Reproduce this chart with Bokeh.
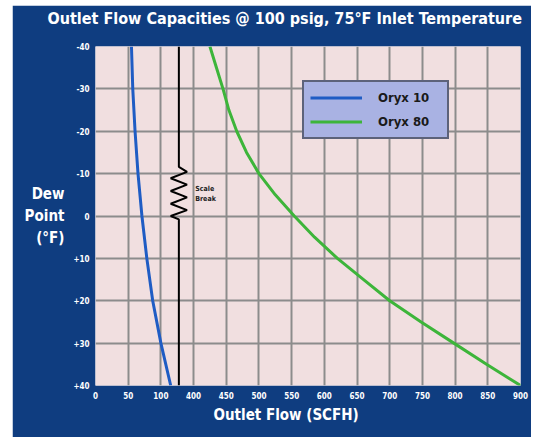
from bokeh.plotting import figure
from bokeh.models import Range1d, FixedTicker, Label, Legend, LegendItem, Spacer, Title
from bokeh.layouts import row, column
from bokeh.embed import file_html
from bokeh.resources import INLINE

# ---------------- data ----------------
title_text = "Outlet Flow Capacities @ 100 psig, 75°F Inlet Temperature"
x_title = "Outlet Flow (SCFH)"
y_title = "Dew\nPoint\n(°F)"
series_names = ["Oryx 10", "Oryx 80"]

x_tick_values = [0, 50, 100, 400, 450, 500, 550, 600, 650, 700, 750, 800, 850, 900]
y_tick_values = [-40, -30, -20, -10, 0, 10, 20, 30, 40]
y_tick_labels = ["-40", "-30", "-20", "-10", "0", "+10", "+20", "+30", "+40"]

dew_point_10 = [-40, -30, -20, -10, 0, 10, 20, 30, 40]
oryx10_flow = [55, 57, 60.5, 65, 71, 78.5, 87.5, 100, 115]

dew_point_80 = [-40, -35, -30, -25, -20, -15, -10, -5, 0, 5, 10, 15, 20, 25, 30, 35, 40]
oryx80_flow = [425, 435, 445, 454, 466, 481, 500, 525, 554, 585, 620, 660, 700, 748, 798, 848, 900]

# scale break: low segment ends at 100, high segment starts at 400
break_low, break_high = 100, 400
break_pos = 2.55  # position (in axis slots) of the drawn break line
break_zig_dx = [0, 0, 0.25, -0.25, 0.25, -0.25, 0.25, -0.25, 0.25, -0.25, 0, 0]
break_zig_y = [-40, -11.6, -10.4, -8.9, -7.4, -5.9, -4.4, -2.9, -1.4, 0.0, 0.8, 40]

STEP = 50.0


def to_slot(v):
    """Map an SCFH value onto the broken axis (one slot per 50 SCFH)."""
    if v <= (break_low + break_high) / 2:
        return v / STEP
    return x_tick_values.index(break_high) + (v - break_high) / STEP


NAVY = "#0f3d80"
PINK = "#f1dfe0"
GRID = "#8c8c8c"
FONT = "'Liberation Sans Narrow', 'DejaVu Sans Condensed', 'Liberation Sans', sans-serif"

p = figure(width=519, height=432,
           x_range=Range1d(0, len(x_tick_values) - 1),
           y_range=Range1d(40, -40),
           output_backend="svg", toolbar_location=None,
           min_border_left=83, min_border_right=11,
           min_border_top=40, min_border_bottom=52,
           background_fill_color=PINK, border_fill_color=NAVY,
           outline_line_color=None)

slots = list(range(len(x_tick_values)))
p.xaxis.ticker = FixedTicker(ticks=slots)
p.xaxis.major_label_overrides = {i: str(v) for i, v in zip(slots, x_tick_values)}
p.yaxis.ticker = FixedTicker(ticks=y_tick_values)
p.yaxis.major_label_overrides = {v: s for v, s in zip(y_tick_values, y_tick_labels)}

for ax in (p.xaxis, p.yaxis):
    ax.axis_line_color = None
    ax.major_tick_line_color = None
    ax.minor_tick_line_color = None
    ax.major_tick_out = 0
    ax.major_tick_in = 0
    ax.minor_tick_out = 0
    ax.minor_tick_in = 0
    ax.major_label_text_color = "white"
    ax.major_label_text_font = FONT
    ax.major_label_text_font_style = "bold"
    ax.major_label_text_font_size = "8px"
    ax.major_label_standoff = 6

# y title, horizontal and on three lines
yax = p.yaxis[0]
yax.axis_label = y_title
yax.axis_label_text_color = "white"
yax.axis_label_text_font = FONT
yax.axis_label_text_font_style = "bold"
yax.axis_label_text_font_size = "15px"
yax.axis_label_standoff = 6
if "axis_label_orientation" in yax.properties():
    yax.axis_label_orientation = "horizontal"

p.xgrid.ticker = FixedTicker(ticks=slots)
p.ygrid.ticker = FixedTicker(ticks=y_tick_values)
for g in (p.xgrid, p.ygrid):
    g.grid_line_color = GRID
    g.grid_line_width = 2

# curves
r10 = p.line([to_slot(v) for v in oryx10_flow], dew_point_10,
             line_color="#1f5cc4", line_width=3)
r80 = p.line([to_slot(v) for v in oryx80_flow], dew_point_80,
             line_color="#3db53a", line_width=3)

# scale break marker
p.line([break_pos + d for d in break_zig_dx], break_zig_y,
       line_color="black", line_width=2)
for txt, yy in (("Scale", -6.3), ("Break", -3.9)):
    p.add_layout(Label(x=break_pos + 0.5, y=yy, text=txt, text_color="#222222",
                       text_font=FONT, text_font_style="bold",
                       text_font_size="7px", text_baseline="middle"))

legend = Legend(items=[LegendItem(label=series_names[0], renderers=[r10]),
                       LegendItem(label=series_names[1], renderers=[r80])],
                location=(207, 246), background_fill_color="#a9b2e3",
                background_fill_alpha=1.0, border_line_color="#111111",
                border_line_width=2, padding=6, margin=0, spacing=5,
                glyph_width=52, glyph_height=19, label_height=19,
                label_width=63, label_standoff=16, label_text_font=FONT,
                label_text_font_style="bold", label_text_font_size="13px",
                label_text_color="#1a1a1a")
p.add_layout(legend)

# titles (an empty spacer title sits between the main title and the frame)
p.title = Title(text=title_text, align="left", offset=-48, text_color="white",
                text_font=FONT, text_font_style="bold", text_font_size="16px",
                standoff=2)
p.add_layout(Title(text=" ", text_font_size="8px", standoff=7), "above")
p.add_layout(Title(text=x_title, align="left", offset=118, text_color="white",
                   text_font=FONT, text_font_style="bold", text_font_size="15px",
                   standoff=4), "below")

layout = column(Spacer(width=531, height=5), row(Spacer(width=12, height=432), p))
open("out.html", "w").write(file_html(layout, INLINE))
